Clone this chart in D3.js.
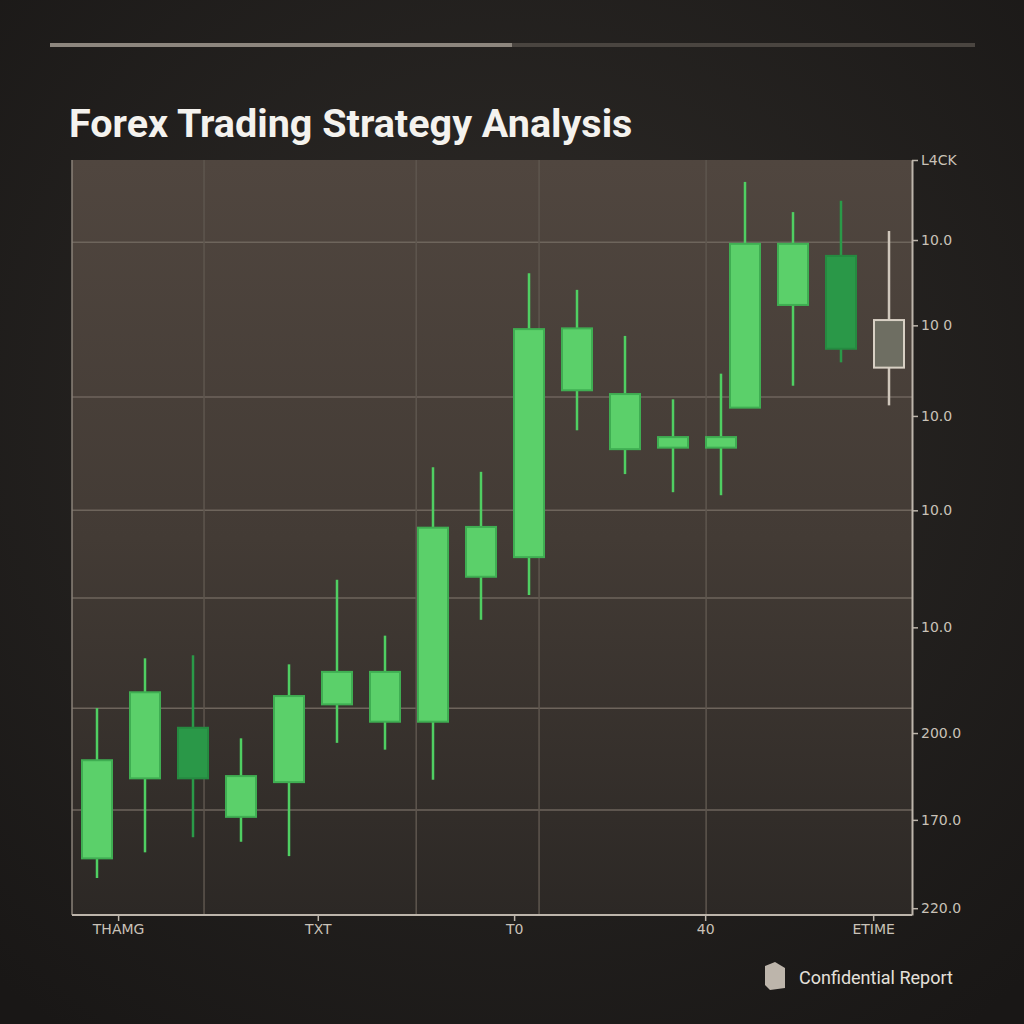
<!DOCTYPE html>
<html><head><meta charset="utf-8">
<script src="https://cdn.jsdelivr.net/npm/d3@7"></script>
<style>body{margin:0;background:#1e1c1a}svg{display:block}</style>
</head><body><svg id="c" width="1024" height="1024"></svg>
<script>
const times=[0,1,2,3,4,5,6,7,8,9,10,11,12,13,13.5,14.5,15.5,16.5];
const opens=[7.5,18.1,24.8,13.0,17.6,27.9,25.6,25.6,44.8,47.4,69.5,61.7,61.9,61.9,67.2,80.8,87.3,72.5];
const closes=[20.5,29.5,18.1,18.4,29.0,32.2,32.2,51.3,51.4,77.6,77.7,69.0,63.3,63.3,88.9,88.9,75.0,78.8];
const highs=[27.4,34.0,34.4,23.4,33.2,44.4,37.0,59.3,58.7,85.0,82.8,76.7,68.3,71.7,97.1,93.1,94.6,90.6];
const lows=[4.9,8.3,10.3,9.7,7.8,22.8,21.9,17.9,39.1,42.4,64.2,58.4,56.0,55.6,67.2,70.1,73.2,67.5];
const yTicks=[100,89.4,78.1,66.1,53.6,38.1,24.1,12.6,0.9];
const yTickLabels=["L4CK","10.0","10 0","10.0","10.0","10.0","200.0","170.0","220.0"];
const yGrid=[89.1,68.6,53.6,42.0,27.4,13.9];
const xTicks=[0.44,4.6,8.69,12.67,16.17];
const xTickLabels=["THAMG","TXT","T0","40","ETIME"];
const xGrid=[2.23,6.65,9.21,12.69];

const svg=d3.select("#c");
const defs=svg.append("defs");
const rg=defs.append("radialGradient").attr("id","bg").attr("cx","50%").attr("cy","40%").attr("r","75%");
rg.append("stop").attr("offset","0").attr("stop-color","#2e2b28");
rg.append("stop").attr("offset","1").attr("stop-color","#191716");
const pg=defs.append("linearGradient").attr("id","pg").attr("x1",0).attr("x2",0).attr("y1",0).attr("y2",1);
pg.append("stop").attr("offset","0").attr("stop-color","#50463f");
pg.append("stop").attr("offset","0.5").attr("stop-color","#433b35");
pg.append("stop").attr("offset","1").attr("stop-color","#2c2825");
svg.append("rect").attr("width",1024).attr("height",1024).attr("fill","url(#bg)");

svg.append("rect").attr("x",50).attr("y",43).attr("width",925).attr("height",4).attr("fill","#4a4540");
svg.append("rect").attr("x",50).attr("y",43).attr("width",462).attr("height",4).attr("fill","#8d867e");
svg.append("text").attr("x",69).attr("y",137).text("Forex Trading Strategy Analysis")
 .attr("font-family","Roboto, 'Open Sans', sans-serif").attr("font-weight","bold").attr("font-size",39.5).attr("fill","#f4f2ee");

const L=72,R=912,T=160,B=915;
const x=d3.scaleLinear().domain([0,1]).range([97,145]);
const y=d3.scaleLinear().domain([0,100]).range([B,T]);
svg.append("rect").attr("x",L).attr("y",T).attr("width",R-L).attr("height",B-T).attr("fill","url(#pg)");
const g=svg.append("g");
g.selectAll(".hg").data(yGrid).join("line").attr("x1",L).attr("x2",R).attr("y1",d=>y(d)).attr("y2",d=>y(d)).attr("stroke","#6e655c").attr("stroke-width",1.5);
g.selectAll(".vg").data(xGrid).join("line").attr("y1",T).attr("y2",B).attr("x1",d=>x(d)).attr("x2",d=>x(d)).attr("stroke","#5e564e").attr("stroke-width",1.5);

const data=times.map((t,i)=>({t,o:opens[i],c:closes[i],h:highs[i],l:lows[i],last:i===times.length-1}));
const bw=30;
const cg=g.selectAll(".cd").data(data).join("g");
cg.append("line").attr("x1",d=>x(d.t)).attr("x2",d=>x(d.t)).attr("y1",d=>y(d.h)).attr("y2",d=>y(d.l))
 .attr("stroke",d=>d.last?"#cfc6bb":(d.c>=d.o?"#4fcf62":"#2a9a48")).attr("stroke-width",2.5);
cg.append("rect").attr("x",d=>x(d.t)-bw/2).attr("width",bw)
 .attr("y",d=>y(Math.max(d.o,d.c))).attr("height",d=>Math.abs(y(d.o)-y(d.c)))
 .attr("fill",d=>d.last?"#6e6e62":(d.c>=d.o?"#5bd06a":"#2a9848"))
 .attr("stroke",d=>d.last?"#d8d0c4":(d.c>=d.o?"#3fae52":"#258a40")).attr("stroke-width",2);

const ax=d3.axisBottom(x).tickValues(xTicks).tickFormat((d,i)=>xTickLabels[i]).tickSize(6).tickSizeOuter(0);
const axG=svg.append("g").attr("transform",`translate(0,${B})`).call(ax);
axG.select(".domain").remove();
const ay=d3.axisRight(y).tickValues(yTicks).tickFormat((d,i)=>yTickLabels[i]).tickSize(6).tickSizeOuter(0);
const ayG=svg.append("g").attr("transform",`translate(${R},0)`).call(ay);
[axG,ayG].forEach(a=>{a.select(".domain").attr("stroke","#bdb5ab").attr("stroke-width",2);
 a.selectAll("line").attr("stroke","#bdb5ab").attr("stroke-width",1.5);
 a.selectAll("text").attr("fill","#c9c2b8").attr("font-family","'DejaVu Sans', sans-serif").attr("font-size",14);});
svg.append("line").attr("x1",L).attr("x2",L).attr("y1",T).attr("y2",B).attr("stroke","#8a8278").attr("stroke-width",1.5);
svg.append("line").attr("x1",L).attr("x2",R).attr("y1",B).attr("y2",B).attr("stroke","#bdb5ab").attr("stroke-width",2);

svg.append("path").attr("d","M765,966 L775,962 L785,968 L785,988 L770,990 L765,985 Z").attr("fill","#bdb5ab");
svg.append("text").attr("x",799).attr("y",984).text("Confidential Report").attr("fill","#e4e0da")
 .attr("font-family","Roboto, sans-serif").attr("font-size",18);
</script></body></html>
